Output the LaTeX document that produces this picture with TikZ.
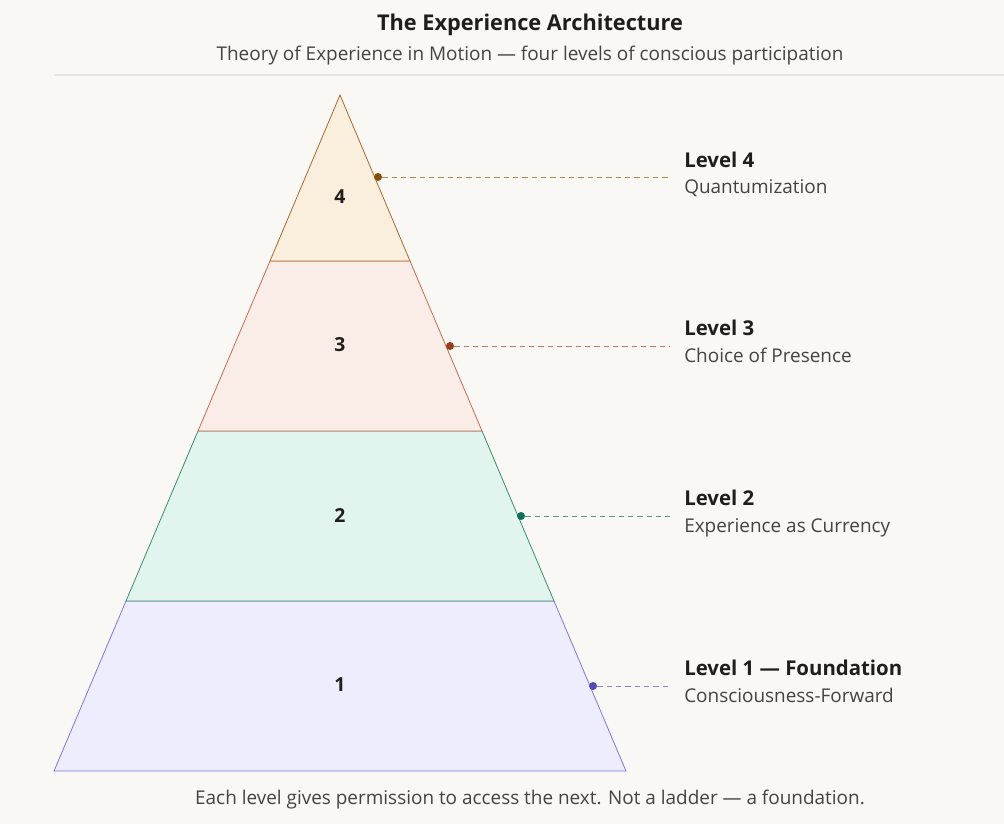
\documentclass[tikz,border=0pt]{standalone}
\usepackage{fontspec}
\setmainfont{Open Sans}
\usepackage{tikz}
\usetikzlibrary{positioning, calc}
\usepackage{xcolor}

\definecolor{paper}{HTML}{F9F8F4}
\definecolor{rulegray}{HTML}{E6E4DE}
\definecolor{inkmain}{HTML}{1F1E1C}
\definecolor{inksub}{HTML}{45433F}
\definecolor{fillfour}{HTML}{FAEFDD}
\definecolor{linefour}{HTML}{A86A32}
\definecolor{dotfour}{HTML}{854F0B}
\definecolor{fillthree}{HTML}{FAECE7}
\definecolor{linethree}{HTML}{C86A52}
\definecolor{dotthree}{HTML}{993C1D}
\definecolor{filltwo}{HTML}{E1F5EE}
\definecolor{linetwo}{HTML}{3A8C70}
\definecolor{dottwo}{HTML}{0F6E56}
\definecolor{fillone}{HTML}{EEEDFE}
\definecolor{lineone}{HTML}{7F77DD}
\definecolor{dotone}{HTML}{534AB7}

\tikzset{
  band/.style={line width=0.6pt, line join=miter},
  num/.style={font=\fontsize{14.5}{17}\selectfont\bfseries, text=inkmain},
  lvl/.style={anchor=base west, inner sep=0pt, font=\fontsize{15.3}{18}\selectfont\bfseries, text=inkmain},
  sub/.style={anchor=base west, inner sep=0pt, font=\fontsize{14.2}{17}\selectfont, text=inksub},
  dot/.style={circle, inner sep=0pt, minimum size=6pt},
  lead/.style={dashed, dash pattern=on 4pt off 3pt, line width=0.5pt},
}

\begin{document}
\begin{tikzpicture}[x=0.75pt, y=-0.75pt]
   \useasboundingbox[fill=paper] (0,0) rectangle (1004,824);

   % heading
   \node[font=\fontsize{16.3}{19}\selectfont\bfseries, text=inkmain] (title) at (530,25) {The Experience Architecture};
   \node[font=\fontsize{14.2}{17}\selectfont, text=inksub] (subtitle) at (530,56) {Theory of Experience in Motion — four levels of conscious participation};
   \draw[rulegray, line width=0.8pt] (54,75) -- (1004,75);

   % pyramid, bottom band first
   \draw[band, draw=lineone, fill=fillone] (54,771) -- (626,771) -- (554,601) -- (126,601) -- cycle;
   \draw[band, draw=linetwo, fill=filltwo] (126,601) -- (554,601) -- (482,431) -- (198,431) -- cycle;
   \draw[band, draw=linethree, fill=fillthree] (198,431) -- (482,431) -- (410,261) -- (270,261) -- cycle;
   \draw[band, draw=linefour, fill=fillfour] (270,261) -- (410,261) -- (340,95) -- cycle;

   \node[num] (n1) at (340,685) {1};
   \node[num] (n2) at (340,515) {2};
   \node[num] (n3) at (340,345) {3};
   \node[num] (n4) at (340,197) {4};

   % leaders
   \node[dot, fill=dotfour] (d4) at (378,177) {};
   \node[dot, fill=dotthree] (d3) at (450,346) {};
   \node[dot, fill=dottwo] (d2) at (521,516) {};
   \node[dot, fill=dotone] (d1) at (593,686) {};
   \coordinate (e4) at (670,177);
   \coordinate (e3) at (670,346);
   \coordinate (e2) at (670,516);
   \coordinate (e1) at (670,686);
   \draw[lead, dotfour!70] (d4) -- (e4);
   \draw[lead, dotthree!70] (d3) -- (e3);
   \draw[lead, dottwo!70] (d2) -- (e2);
   \draw[lead, dotone!70] (d1) -- (e1);

   % labels
   \node[lvl] (l4) at (684,167) {Level 4};
   \node[sub] (s4) at (684,193) {Quantumization};
   \node[lvl] (l3) at (684,335) {Level 3};
   \node[sub] (s3) at (684,362) {Choice of Presence};
   \node[lvl] (l2) at (684,505) {Level 2};
   \node[sub] (s2) at (684,532) {Experience as Currency};
   \node[lvl] (l1) at (684,675) {Level 1 — Foundation};
   \node[sub] (s1) at (684,702) {Consciousness-Forward};

   \node[font=\fontsize{14.2}{17}\selectfont, text=inksub] (note) at (530,800) {Each level gives permission to access the next. Not a ladder — a foundation.};
\end{tikzpicture}
\end{document}
